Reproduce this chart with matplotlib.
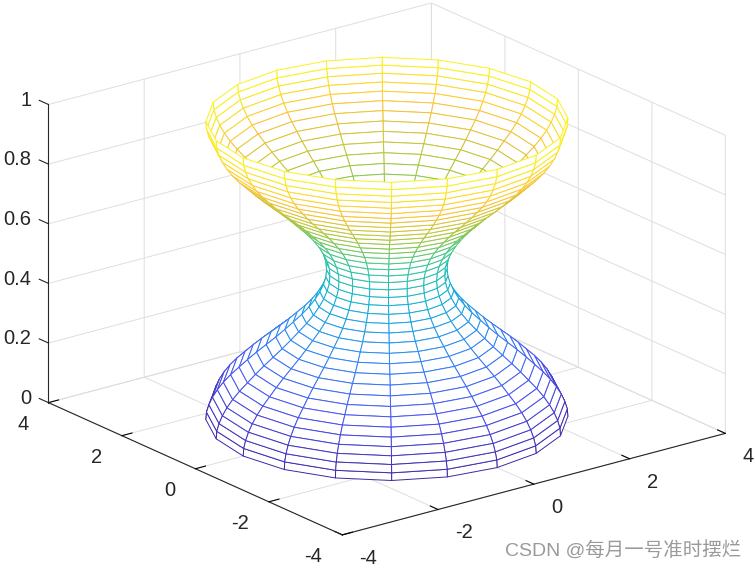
import matplotlib
matplotlib.use('Agg')
import matplotlib.pyplot as plt
import numpy as np
from matplotlib.colors import LinearSegmentedColormap
from mpl_toolkits.mplot3d import proj3d

plt.rcParams['font.family'] = ['Liberation Sans', 'Noto Sans CJK SC', 'DejaVu Sans']

# radius of the hourglass at each height
radius = [3.00, 2.99, 2.95, 2.89, 2.81, 2.71, 2.59, 2.45, 2.31, 2.16,
          2.00, 1.84, 1.69, 1.55, 1.41, 1.29, 1.19, 1.11, 1.05, 1.01,
          1.00, 1.01, 1.05, 1.11, 1.19, 1.29, 1.41, 1.55, 1.69, 1.84,
          2.00, 2.16, 2.31, 2.45, 2.59, 2.71, 2.81, 2.89, 2.95, 2.99, 3.00]
height = [0.000, 0.025, 0.050, 0.075, 0.100, 0.125, 0.150, 0.175, 0.200, 0.225,
          0.250, 0.275, 0.300, 0.325, 0.350, 0.375, 0.400, 0.425, 0.450, 0.475,
          0.500, 0.525, 0.550, 0.575, 0.600, 0.625, 0.650, 0.675, 0.700, 0.725,
          0.750, 0.775, 0.800, 0.825, 0.850, 0.875, 0.900, 0.925, 0.950, 0.975, 1.000]
angle_deg = [0, 18, 36, 54, 72, 90, 108, 126, 144, 162, 180,
             198, 216, 234, 252, 270, 288, 306, 324, 342, 360]
xy_ticks = [-4, -2, 0, 2, 4]
xy_ticklabels = ['-4', '-2', '0', '2', '4']
z_ticks = [0, 0.2, 0.4, 0.6, 0.8, 1]
z_ticklabels = ['0', '0.2', '0.4', '0.6', '0.8', '1']
parula_colors = [(0.2422, 0.1504, 0.6603), (0.2810, 0.3228, 0.9579),
                 (0.1786, 0.5289, 0.9682), (0.0689, 0.6948, 0.8394),
                 (0.2161, 0.7843, 0.5923), (0.6720, 0.7793, 0.2227),
                 (0.9970, 0.7659, 0.2199), (0.9769, 0.9839, 0.0805)]


def put_label(ax, x, y, z, lab, ha):
    # project by hand, text2D keeps a plain 2D text position
    xp, yp, _ = proj3d.proj_transform(x, y, z, ax.get_proj())
    ax.text2D(xp, yp, lab, transform=ax.transData, ha=ha, va='center', fontsize=14.5, color='#262626')


parula = LinearSegmentedColormap.from_list('parula', parula_colors)
t = np.deg2rad(angle_deg)
r = np.array(radius)
X = np.outer(r, np.cos(t))
Y = np.outer(r, np.sin(t))
Z = np.outer(height, np.ones(len(t)))

fig = plt.figure(figsize=(7.56, 5.68), dpi=100)
ax = fig.add_axes([0.0016, 0.013, 1, 1], projection='3d', proj_type='ortho')
ax.view_init(elev=20.2, azim=-127.5)
ax.set_box_aspect((1, 1, 0.658), zoom=1.287)

surf = ax.plot_surface(X, Y, Z, rstride=1, cstride=1, color='white', shade=False, linewidth=0.7)
row_colors = parula(np.array(height[:-1]))
surf.set_edgecolors(np.repeat(row_colors, len(t) - 1, axis=0))

# z axis sits on the left corner, mplot3d can not put it there by itself
ax.plot([-4, -4], [4, 4], [0, 1], color='#262626', linewidth=0.8, clip_on=False)
for zt in z_ticks:
    ax.plot([-4, -4], [4, 4.25], [zt, zt], color='#262626', linewidth=0.8, clip_on=False)

ax.set_xlim(-4, 4, view_margin=0)
ax.set_ylim(-4, 4, view_margin=0)
ax.set_zlim(0, 1, view_margin=0)
ax.set_xticks(xy_ticks)
ax.set_yticks(xy_ticks)
ax.set_zticks(z_ticks)
ax.xaxis.set_ticklabels([])
ax.yaxis.set_ticklabels([])
ax.zaxis.set_ticklabels([])
ax.zaxis.line.set_visible(False)

for axis in (ax.xaxis, ax.yaxis, ax.zaxis):
    axis.set_pane_color((1, 1, 1, 0))
    axis.pane.set_edgecolor('#dedede')
    axis.line.set_color('#262626')
    axis.line.set_linewidth(0.8)
    axis._axinfo['grid']['color'] = '#dedede'
    axis._axinfo['grid']['linewidth'] = 0.7
    axis._axinfo['tick']['inward_factor'] = 0
    axis._axinfo['tick']['outward_factor'] = 0.33
    axis._axinfo['tick']['color'] = '#262626'
ax.zaxis._axinfo['tick']['outward_factor'] = 0

# tick labels placed by hand so they sit like the MATLAB ones
for zt, lab in zip(z_ticks, z_ticklabels):
    put_label(ax, -4, 4.47, zt - 0.012, lab, 'right')
for tk, lab in zip(xy_ticks, xy_ticklabels):
    put_label(ax, tk, -4.47, -0.052, lab, 'left')
    put_label(ax, -4.42, tk, -0.054, lab, 'right')

fig.text(0.9805, 0.0317, 'CSDN @每月一号准时摆烂', ha='right', va='center', fontsize=14, color='#9a9a9a')

fig.savefig('out.png', dpi=100)
